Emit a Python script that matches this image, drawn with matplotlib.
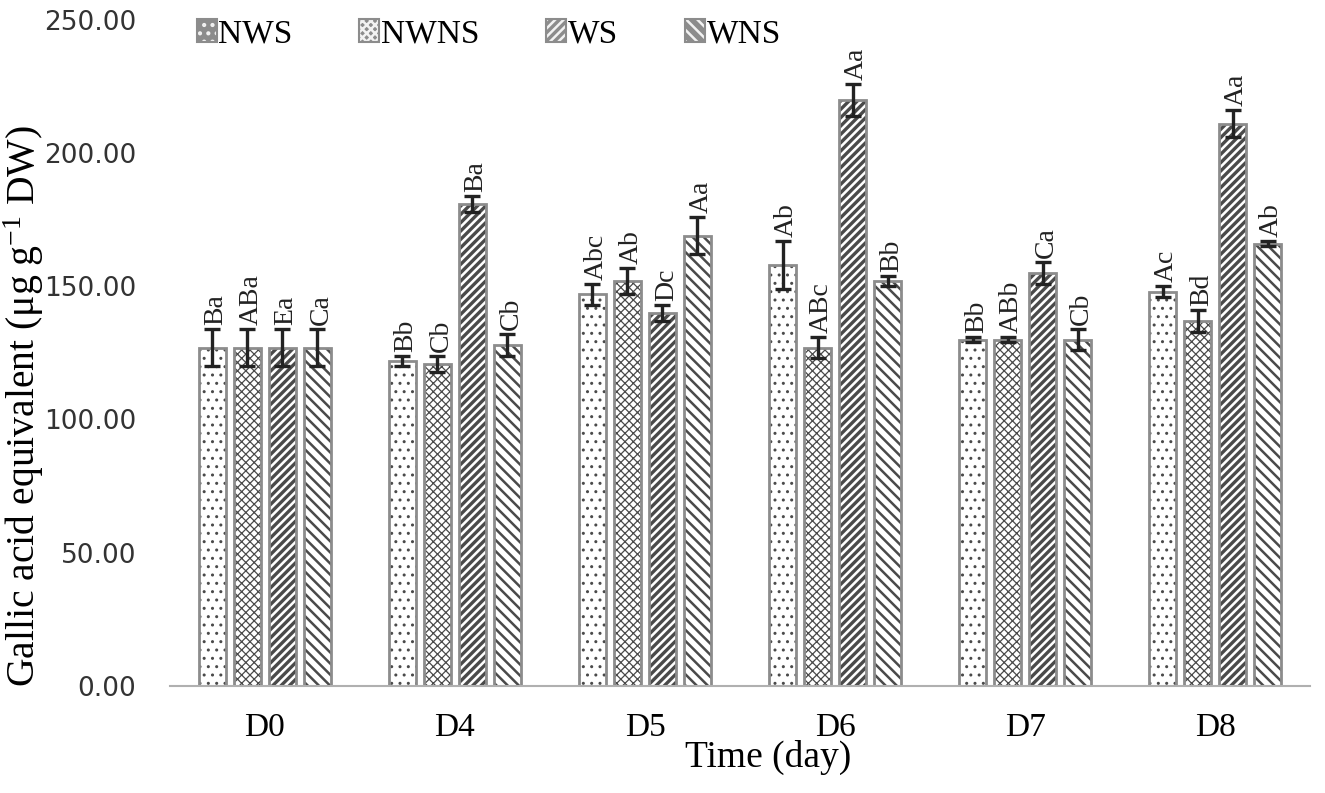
import matplotlib
matplotlib.use("Agg")
import matplotlib.pyplot as plt
import numpy as np

plt.rcParams['font.family'] = ['Liberation Serif', 'DejaVu Serif']
plt.rcParams['mathtext.fontset'] = 'custom'
plt.rcParams['mathtext.rm'] = 'Liberation Serif'
plt.rcParams['mathtext.it'] = 'Liberation Serif:italic'

days = ["D0", "D4", "D5", "D6", "D7", "D8"]
series = ["NWS", "NWNS", "WS", "WNS"]
nws = [127, 122, 147, 158, 130, 148]
nwns = [127, 121, 152, 127, 130, 137]
ws = [127, 181, 140, 220, 155, 211]
wns = [127, 128, 169, 152, 130, 166]
nws_err = [7, 2, 4, 9, 1, 2]
nwns_err = [7, 3, 5, 4, 1, 4]
ws_err = [7, 3, 3, 6, 4, 5]
wns_err = [7, 4, 7, 2, 4, 1]
nws_lbl = ["Ba", "Bb", "Abc", "Ab", "Bb", "Ac"]
nwns_lbl = ["ABa", "Cb", "Ab", "ABc", "ABb", "Bd"]
ws_lbl = ["Ea", "Ba", "Dc", "Aa", "Ca", "Aa"]
wns_lbl = ["Ca", "Cb", "Aa", "Bb", "Cb", "Ab"]

values = [nws, nwns, ws, wns]
errs = [nws_err, nwns_err, ws_err, wns_err]
lbls = [nws_lbl, nwns_lbl, ws_lbl, wns_lbl]
hatches = ['..', 'xxxx', '////', '\\\\\\']
hatch_lw = [1.0, 0.9, 2.4, 1.8]
hcol = matplotlib.colors.to_rgba('#4a4a4a')

fig = plt.figure(figsize=(13.25, 7.93), dpi=100)
ax = fig.add_axes([0.128, 0.135, 0.861, 0.840])

x = np.arange(len(days))
step = 0.184
bw = 0.142
for i, (v, e, l, h) in enumerate(zip(values, errs, lbls, hatches)):
    pos = x + (i - 1.5) * step
    plt.rcParams['hatch.linewidth'] = hatch_lw[i]
    bars = ax.bar(pos, v, width=bw, color='white', edgecolor='#8c8c8c', hatch=h,
                  linewidth=2, label=series[i])
    for p in bars:
        p._hatch_color = hcol
    ax.errorbar(pos, v, yerr=e, fmt='none', ecolor='#222222', elinewidth=2.4,
                capsize=6, capthick=2.4)
    for p, vv, ee, ll in zip(pos, v, e, l):
        ax.text(p + 0.02, vv + ee + 1.5, ll, rotation=90, ha='center', va='bottom',
                fontsize=20, color='#222222')

ax.set_xlim(-0.5, 5.5)
ax.set_ylim(0, 250)
ax.set_yticks(np.arange(0, 251, 50))
ax.set_yticklabels([f"{t:.2f}" for t in np.arange(0, 251, 50)],
                   fontfamily='DejaVu Sans', fontsize=19, color='#333333')
ax.set_xticks(x)
ax.set_xticklabels(days, fontsize=24)
ax.tick_params(axis='y', length=0, pad=24)
ax.tick_params(axis='x', length=0, pad=19)
for s in ['top', 'right', 'left']:
    ax.spines[s].set_visible(False)
ax.spines['bottom'].set_color('#b0b0b0')
ax.spines['bottom'].set_linewidth(1.5)

ax.set_xlabel("Time (day)", fontsize=27)
ax.xaxis.set_label_coords(0.525, -0.081)
ax.set_ylabel(r"Gallic acid equivalent (μg g$^{-1}$ DW)", fontsize=28.5)
ax.yaxis.set_label_coords(-0.108, 0.42)

handles, labels = ax.get_legend_handles_labels()
leg = ax.legend(handles, labels, loc='upper left', bbox_to_anchor=(0.012, 1.022), ncol=4,
                frameon=False, fontsize=24, handlelength=0.6, handleheight=0.7,
                handletextpad=0.05, columnspacing=2.0, borderaxespad=0)
for p in leg.get_patches():
    p.set_linewidth(1.5)
    p.set_facecolor('#8c8c8c')
    p._hatch_color = matplotlib.colors.to_rgba('#f2f2f2')

fig.savefig("out.png", dpi=100)
